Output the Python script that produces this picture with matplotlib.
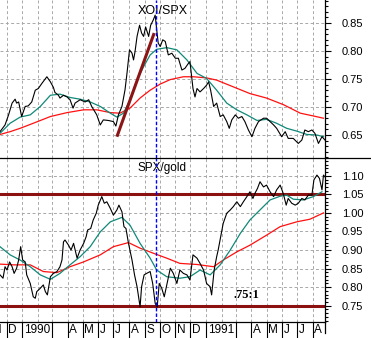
#!/usr/bin/env python3
# -*- coding: utf-8 -*-
"""
XOI/SPX and SPX/gold ratio chart with moving averages.
"""

import matplotlib
matplotlib.use('Agg')
import matplotlib.pyplot as plt
from matplotlib.lines import Line2D
from matplotlib.ticker import MultipleLocator, FormatStrFormatter
import pandas as pd

# x values are days from 1990-01-01
start_day = -44
end_day = 601

# --- top panel: XOI/SPX ---
xoi_days = [-44, -34, -27, -20, -14, -11, -7, -1, 6, 12, 19, 26, 32, 39, 49, 56,
            62, 65, 72, 75, 82, 89, 95, 101, 105, 115, 125, 132, 138, 148, 155,
            161, 171, 181, 186, 191, 198, 204, 208, 213, 218, 221, 224, 228, 233,
            237, 241, 245, 251, 255, 260, 264, 267, 270, 274, 279, 284, 290, 297,
            304, 310, 317, 323, 330, 333, 339, 343, 347, 353, 360, 366, 370, 374,
            380, 386, 393, 399, 406, 411, 416, 423, 429, 436, 442, 449, 456, 462,
            469, 479, 485, 492, 499, 505, 515, 522, 528, 538, 548, 555, 561, 568,
            575, 581, 588, 595, 601]
xoi_vals = [0.656, 0.668, 0.686, 0.707, 0.714, 0.707, 0.709, 0.683, 0.701, 0.702,
            0.709, 0.730, 0.733, 0.742, 0.754, 0.745, 0.735, 0.726, 0.721, 0.716,
            0.721, 0.718, 0.713, 0.698, 0.707, 0.713, 0.709, 0.713, 0.701, 0.686,
            0.668, 0.677, 0.676, 0.674, 0.666, 0.686, 0.701, 0.730, 0.760, 0.802,
            0.796, 0.784, 0.799, 0.826, 0.846, 0.832, 0.826, 0.843, 0.826, 0.846,
            0.855, 0.864, 0.838, 0.814, 0.808, 0.820, 0.817, 0.793, 0.796, 0.787,
            0.787, 0.766, 0.769, 0.778, 0.781, 0.733, 0.718, 0.733, 0.727, 0.733,
            0.739, 0.745, 0.730, 0.701, 0.707, 0.683, 0.686, 0.674, 0.662, 0.677,
            0.686, 0.680, 0.683, 0.674, 0.659, 0.647, 0.662, 0.674, 0.680, 0.680,
            0.674, 0.668, 0.662, 0.647, 0.656, 0.644, 0.644, 0.635, 0.641, 0.659,
            0.656, 0.659, 0.653, 0.635, 0.647, 0.641]
xoi_ma_short_days = [-44, -24, -4, 16, 36, 56, 75, 95, 115, 135, 155, 175, 188, 201,
                     214, 228, 241, 254, 267, 287, 307, 327, 347, 366, 386, 406,
                     426, 446, 466, 485, 505, 525, 545, 565, 585, 598]
xoi_ma_short = [0.653, 0.671, 0.682, 0.686, 0.701, 0.721, 0.723, 0.717, 0.714,
                0.709, 0.701, 0.689, 0.682, 0.689, 0.713, 0.748, 0.772, 0.793,
                0.803, 0.806, 0.802, 0.784, 0.760, 0.751, 0.730, 0.707, 0.695,
                0.686, 0.676, 0.678, 0.671, 0.662, 0.657, 0.651, 0.650, 0.647]
xoi_ma_long_days = [-44, -24, -4, 22, 56, 89, 122, 148, 175, 194, 214, 234, 254,
                    274, 294, 320, 340, 366, 386, 419, 452, 485, 519, 552, 578, 598]
xoi_ma_long = [0.651, 0.656, 0.662, 0.671, 0.683, 0.690, 0.695, 0.695, 0.690,
               0.689, 0.698, 0.716, 0.730, 0.741, 0.749, 0.754, 0.754, 0.752,
               0.748, 0.736, 0.724, 0.716, 0.704, 0.689, 0.684, 0.680]
xoi_trend_days = [188, 262]
xoi_trend_vals = [0.647, 0.832]

# --- bottom panel: SPX/gold ---
gold_days = [-44, -38, -34, -30, -25, -20, -16, -11, -7, -3, 1, 6, 9, 16, 22, 26,
             29, 36, 42, 46, 50, 56, 62, 69, 75, 79, 82, 85, 92, 97, 102, 109, 115,
             122, 127, 130, 136, 141, 147, 151, 158, 163, 168, 175, 181, 188, 192,
             198, 202, 206, 211, 218, 223, 228, 234, 237, 242, 247, 254, 259, 264,
             268, 272, 277, 282, 287, 294, 300, 307, 313, 320, 327, 333, 339, 347,
             353, 360, 366, 373, 376, 381, 386, 389, 394, 399, 406, 413, 419, 426,
             433, 439, 446, 452, 458, 462, 467, 472, 479, 485, 492, 499, 505, 512,
             518, 524, 528, 535, 542, 548, 555, 561, 568, 575, 579, 585, 590, 595,
             598, 601]
gold_vals = [0.833, 0.824, 0.855, 0.846, 0.868, 0.855, 0.837, 0.851, 0.873, 0.909,
             0.873, 0.868, 0.833, 0.810, 0.774, 0.770, 0.788, 0.797, 0.806, 0.788,
             0.779, 0.828, 0.837, 0.842, 0.855, 0.873, 0.922, 0.927, 0.913, 0.900,
             0.918, 0.878, 0.900, 0.918, 0.936, 0.954, 0.958, 0.981, 0.999, 1.021,
             1.044, 1.026, 1.030, 1.012, 0.994, 1.008, 1.021, 1.003, 0.963, 0.958,
             0.918, 0.873, 0.833, 0.801, 0.747, 0.801, 0.833, 0.837, 0.842, 0.810,
             0.756, 0.747, 0.810, 0.797, 0.774, 0.806, 0.851, 0.837, 0.810, 0.846,
             0.837, 0.833, 0.819, 0.887, 0.878, 0.864, 0.846, 0.810, 0.801, 0.779,
             0.846, 0.882, 0.900, 0.936, 0.972, 0.999, 1.008, 1.017, 1.030, 1.017,
             1.030, 1.044, 1.057, 1.039, 1.053, 1.066, 1.084, 1.070, 1.075, 1.057,
             1.044, 1.062, 1.075, 1.053, 1.021, 1.039, 1.026, 1.021, 1.026, 1.039,
             1.035, 1.048, 1.048, 1.089, 1.102, 1.093, 1.062, 1.102, 1.097]
gold_ma_short_days = [-44, -24, -4, 16, 36, 56, 75, 95, 115, 135, 155, 175, 198,
                      214, 234, 254, 267, 287, 313, 333, 353, 373, 393, 413, 433,
                      452, 472, 492, 512, 525, 538, 558, 578, 595]
gold_ma_short = [0.909, 0.887, 0.873, 0.855, 0.833, 0.821, 0.837, 0.860, 0.882,
                 0.909, 0.949, 0.976, 0.988, 0.967, 0.918, 0.878, 0.846, 0.828,
                 0.824, 0.828, 0.846, 0.833, 0.860, 0.900, 0.945, 0.981, 1.008,
                 1.035, 1.045, 1.048, 1.037, 1.035, 1.044, 1.057]
gold_ma_long_days = [-44, -17, 16, 42, 69, 95, 122, 155, 181, 211, 234, 261, 287,
                     313, 347, 380, 399, 426, 452, 485, 512, 545, 571, 598]
gold_ma_long = [0.862, 0.860, 0.860, 0.842, 0.839, 0.855, 0.868, 0.887, 0.909,
                0.920, 0.905, 0.891, 0.878, 0.864, 0.861, 0.855, 0.873, 0.895,
                0.913, 0.940, 0.963, 0.976, 0.983, 1.000]
gold_levels = [1.05, 0.75]
gold_note = '.75:1'
marker_day = 265

BASE = pd.Timestamp('1990-01-01')
GRID = dict(color='#a8a8a8', lw=0.7, ls=(0, (3, 2.5)))


def to_dates(days):
    return BASE + pd.to_timedelta(days, unit='D')


def style_axis(ax, lo, hi):
    ax.set_xlim(to_dates([start_day])[0], to_dates([end_day])[0])
    ax.set_ylim(lo, hi)
    ax.yaxis.tick_right()
    ax.yaxis.set_major_locator(MultipleLocator(0.05))
    ax.yaxis.set_minor_locator(MultipleLocator(0.01))
    ax.yaxis.set_major_formatter(FormatStrFormatter('%.2f'))
    ax.tick_params(axis='y', which='major', length=4.3, width=0.8, pad=8,
                   labelsize=8)
    ax.tick_params(axis='y', which='minor', length=2.2, width=0.8)
    ax.set_xticks([])
    ax.grid(axis='y', which='major', **GRID)
    for m in pd.date_range('1989-12-01', '1991-08-01', freq='MS'):
        ax.axvline(m, zorder=0, **GRID)
    for side in ('top', 'left', 'bottom'):
        ax.spines[side].set_visible(False)
    ax.spines['right'].set_linewidth(0.9)


plt.rcParams['font.family'] = ['Liberation Sans', 'DejaVu Sans']

fig = plt.figure(figsize=(3.71, 3.38), dpi=100)
ax1 = fig.add_axes([0, 1 - 158 / 338, 325 / 371, 158 / 338])
ax2 = fig.add_axes([0, 16 / 338, 325 / 371, 164 / 338])

style_axis(ax1, 0.609, 0.891)
style_axis(ax2, 0.706, 1.148)
ax2.spines['bottom'].set_visible(True)
ax2.spines['bottom'].set_linewidth(0.9)

# top panel
ax1.plot(to_dates(xoi_ma_long_days), xoi_ma_long, color='#ff1010', lw=0.9)
ax1.plot(to_dates(xoi_ma_short_days), xoi_ma_short, color='#108878', lw=0.9)
ax1.plot(to_dates(xoi_days), xoi_vals, color='black', lw=0.8)
ax1.plot(to_dates(xoi_trend_days), xoi_trend_vals, color='#8b1414', lw=2.2,
         solid_capstyle='butt')
ax1.text(0.5, 0.93, 'XOI/SPX', transform=ax1.transAxes, ha='center',
         va='center', fontsize=9)

# bottom panel
for level in gold_levels:
    ax2.axhline(level, color='#8b1010', lw=2.2, zorder=2)
ax2.plot(to_dates(gold_ma_long_days), gold_ma_long, color='#ff1010', lw=0.9)
ax2.plot(to_dates(gold_ma_short_days), gold_ma_short, color='#108878', lw=0.9)
ax2.plot(to_dates(gold_days), gold_vals, color='black', lw=0.8)
ax2.text(0.5, 0.94, 'SPX/gold', transform=ax2.transAxes, ha='center',
         va='center', fontsize=8.5)
ax2.text(to_dates([419])[0], 0.779, gold_note, ha='left', va='center',
         fontsize=9, fontweight='bold', family='Liberation Serif')

# marker line through both panels
for ax in (ax1, ax2):
    ax.axvline(to_dates([marker_day])[0], color='#0000ff', lw=1,
               ls=(0, (2.5, 1.5)), zorder=5)

# month labels under the bottom panel
xt = ax2.get_xaxis_transform()
for m in pd.date_range('1989-11-01', '1991-08-01', freq='MS'):
    if m.month == 2:
        continue
    ax2.plot([m, m], [0, -0.1], transform=xt, color='black', lw=0.8,
             clip_on=False)
    if m.month == 3:
        continue
    label = str(m.year) if m.month == 1 else m.strftime('%b')[0]
    ax2.text(m + pd.Timedelta(days=3), -0.012, label, transform=xt,
             ha='left', va='top', fontsize=8.5)

# separator across full width and right axis extension
fig.add_artist(Line2D([0, 1], [1 - 158 / 338] * 2, color='black', lw=0.9))
fig.add_artist(Line2D([325 / 371] * 2, [16 / 338, 5 / 338], color='black',
                      lw=0.9))

fig.savefig('out.png', dpi=100)
plt.close(fig)
